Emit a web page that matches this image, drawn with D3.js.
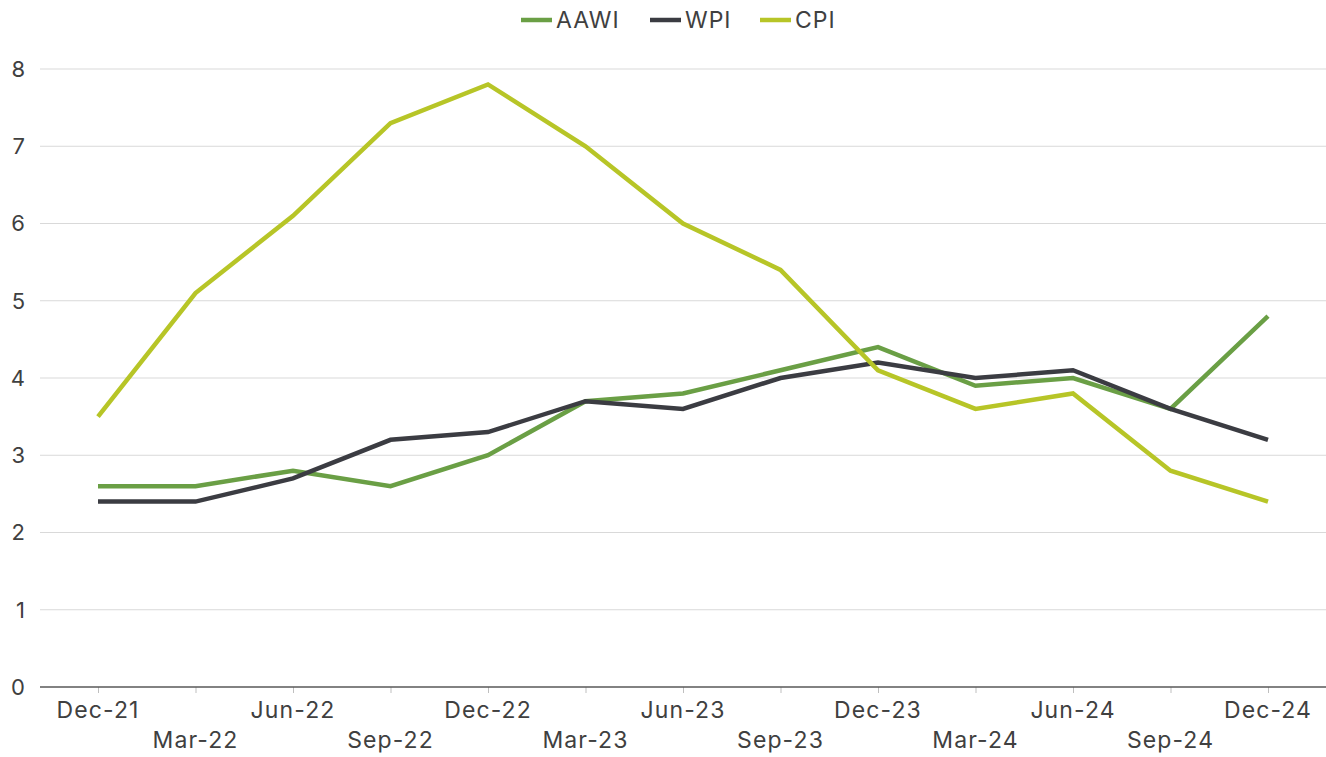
<!DOCTYPE html>
<html>
<head>
<meta charset="utf-8">
<script src="https://cdn.jsdelivr.net/npm/d3@7"></script>
<style>
  body { margin: 0; background: #fff; }
  svg { font-family: Inter, "Open Sans", sans-serif; }
</style>
</head>
<body>
<script>
var categories = ["Dec-21", "Mar-22", "Jun-22", "Sep-22", "Dec-22", "Mar-23", "Jun-23",
                  "Sep-23", "Dec-23", "Mar-24", "Jun-24", "Sep-24", "Dec-24"];
var aawi = [2.6, 2.6, 2.8, 2.6, 3.0, 3.7, 3.8, 4.1, 4.4, 3.9, 4.0, 3.6, 4.8];
var wpi  = [2.4, 2.4, 2.7, 3.2, 3.3, 3.7, 3.6, 4.0, 4.2, 4.0, 4.1, 3.6, 3.2];
var cpi  = [3.5, 5.1, 6.1, 7.3, 7.8, 7.0, 6.0, 5.4, 4.1, 3.6, 3.8, 2.8, 2.4];
var yTicks = [0, 1, 2, 3, 4, 5, 6, 7, 8];

var series = [
  { name: "AAWI", values: aawi, color: "#6a9f45" },
  { name: "WPI",  values: wpi,  color: "#3b3c42" },
  { name: "CPI",  values: cpi,  color: "#b7c527" }
];

var width = 1326, height = 757;
var left = 40, right = 1326;

var svg = d3.select("body").append("svg")
    .attr("width", width)
    .attr("height", height);

var x = d3.scalePoint()
    .domain(categories)
    .range([98, 1268]);

var y = d3.scaleLinear()
    .domain([0, 8])
    .range([687, 69]);

// gridlines
svg.append("g")
  .selectAll("line")
  .data(yTicks.filter(function(d) { return d > 0; }))
  .enter().append("line")
  .attr("x1", left).attr("x2", right)
  .attr("y1", function(d) { return y(d); })
  .attr("y2", function(d) { return y(d); })
  .attr("stroke", "#d9d9d9")
  .attr("stroke-width", 1);

// y labels
svg.append("g")
  .selectAll("text")
  .data(yTicks)
  .enter().append("text")
  .attr("x", 25)
  .attr("y", function(d) { return y(d); })
  .attr("dy", "0.36em")
  .attr("text-anchor", "end")
  .attr("font-size", 22)
  .attr("fill", "#404040")
  .text(function(d) { return d; });

// x axis
var xAxis = svg.append("g")
    .attr("transform", "translate(0," + y(0) + ")")
    .call(d3.axisBottom(x).tickSize(6).tickSizeOuter(0).tickFormat(""));
xAxis.select(".domain").remove();
xAxis.selectAll(".tick line").attr("stroke", "#bfbfbf").attr("stroke-width", 1);
xAxis.append("line")
    .attr("x1", left).attr("x2", right)
    .attr("stroke", "#595959").attr("stroke-width", 1.5);

svg.append("g")
  .selectAll("text")
  .data(categories)
  .enter().append("text")
  .attr("x", function(d) { return x(d); })
  .attr("y", function(d, i) { return i % 2 === 0 ? 718 : 748; })
  .attr("text-anchor", "middle")
  .attr("font-size", 23)
  .attr("letter-spacing", "1.1px")
  .attr("fill", "#404040")
  .text(function(d) { return d; });

// lines
var line = d3.line()
    .x(function(d, i) { return x(categories[i]); })
    .y(function(d) { return y(d); });

svg.append("g")
  .selectAll("path")
  .data(series)
  .enter().append("path")
  .attr("d", function(s) { return line(s.values); })
  .attr("fill", "none")
  .attr("stroke", function(s) { return s.color; })
  .attr("stroke-width", 4.5)
  .attr("stroke-linejoin", "miter");

// legend
var legendX = [521, 650, 760];
var legend = svg.append("g")
  .selectAll("g")
  .data(series)
  .enter().append("g")
  .attr("transform", function(d, i) { return "translate(" + legendX[i] + ",20)"; });

legend.append("line")
  .attr("x1", 0).attr("x2", 31)
  .attr("stroke", function(d) { return d.color; })
  .attr("stroke-width", 4.5);

legend.append("text")
  .attr("x", 35)
  .attr("dy", "0.36em")
  .attr("font-size", 23)
  .attr("letter-spacing", "1px")
  .attr("fill", "#404040")
  .text(function(d) { return d.name; });
</script>
</body>
</html>
